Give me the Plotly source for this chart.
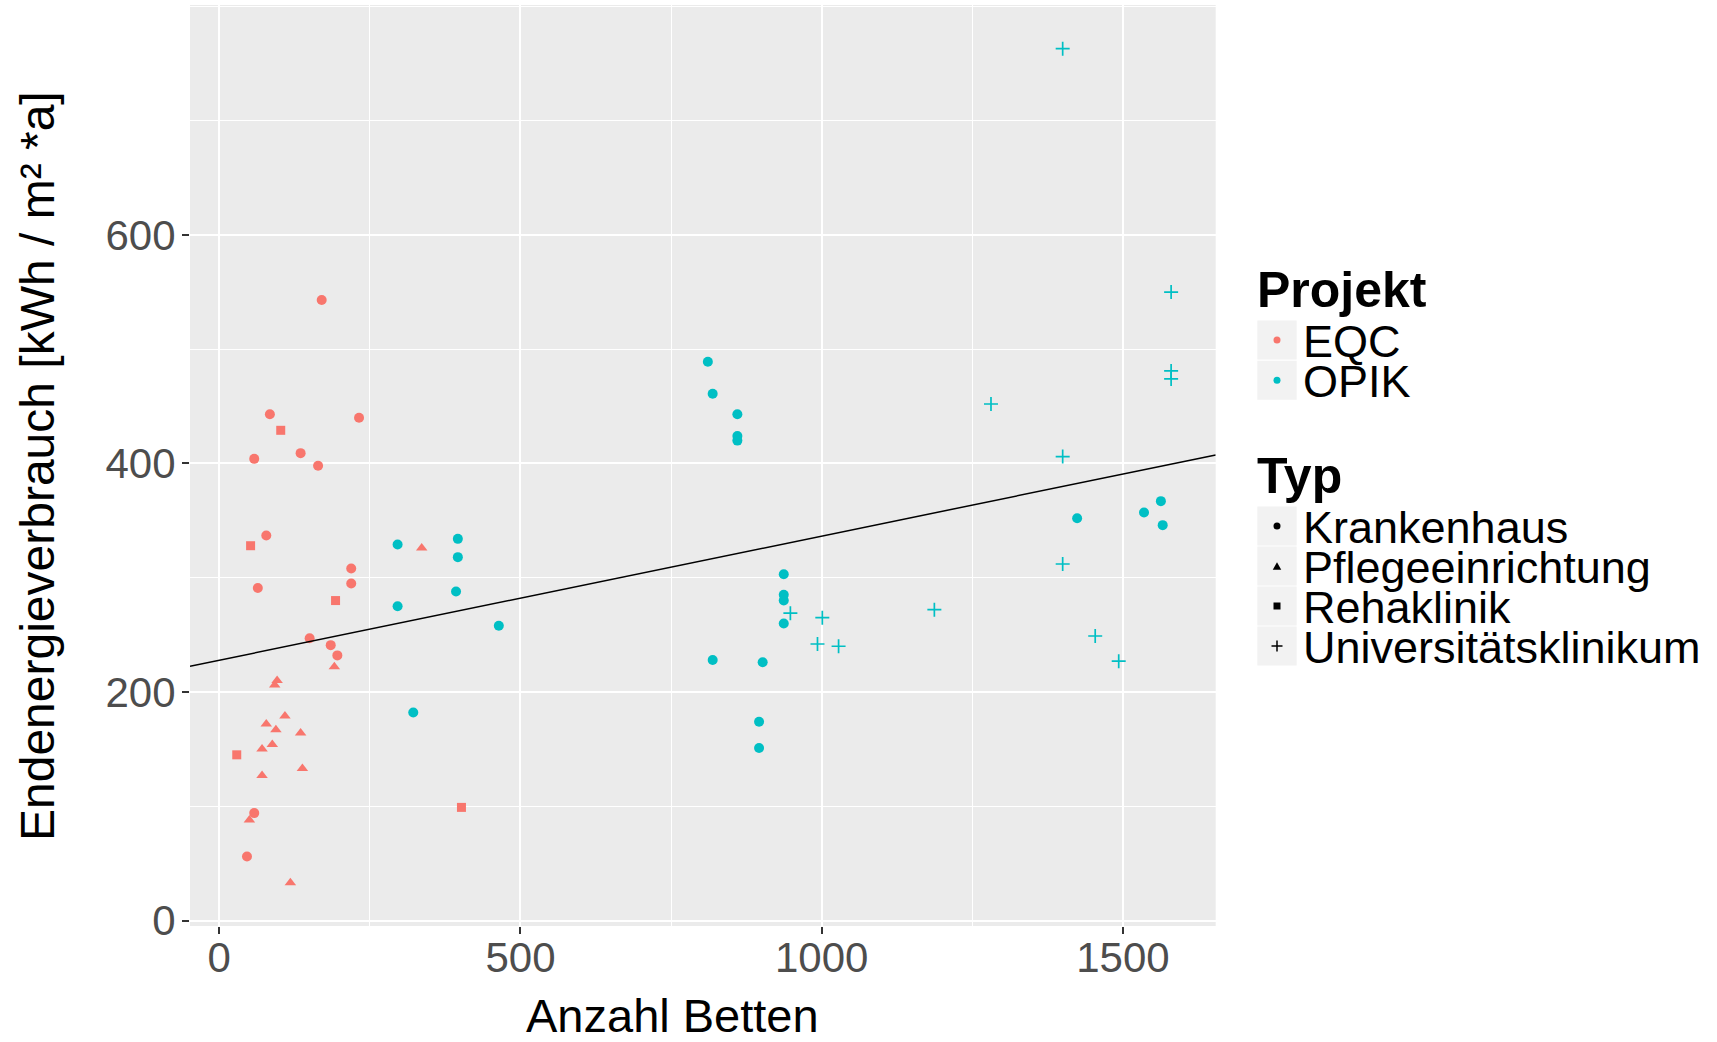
import plotly.graph_objects as go

# ---------------- data ----------------
eqc_kh_x = [170, 84, 232, 135, 58, 164, 78, 219, 219, 64, 150, 185, 196, 58, 46]
eqc_kh_y = [543, 443, 440, 409, 404, 398, 337, 308, 295, 291, 247, 241, 232, 94, 56]

eqc_pf_x = [336, 191, 96, 92, 109, 78, 94, 135, 88, 71, 138, 71, 50, 118]
eqc_pf_y = [326, 222, 210, 206, 179, 172, 167, 164, 154, 150, 133, 127, 88, 33]

eqc_re_x = [102, 52, 193, 29, 402]
eqc_re_y = [429, 328, 280, 145, 99]

opik_kh_x = [296, 396, 396, 393, 296, 464, 322,
             811, 819, 860, 860, 860, 937, 937, 937, 937, 819, 902, 896, 896,
             1424, 1563, 1535, 1566]
opik_kh_y = [329, 334, 318, 288, 275, 258, 182,
             489, 461, 443, 424, 420, 303, 285, 280, 260, 228, 226, 174, 151,
             352, 367, 357, 346]

opik_uk_x = [1400, 1580, 1580, 1580, 1281, 1400, 1400, 1187, 1454, 1493, 948, 1001, 993, 1028]
opik_uk_y = [763, 550, 481, 474, 452, 406, 312, 272, 249, 227, 269, 265, 242, 240]

fit_intercept = 227.8
fit_slope = 0.1086

x_range = [-48.6, 1654]
y_range = [-4.8, 801.2]
x_ticks = [0, 500, 1000, 1500]
y_ticks = [0, 200, 400, 600]

projekt_labels = ["EQC", "OPIK"]
typ_labels = ["Krankenhaus", "Pflegeeinrichtung", "Rehaklinik", "Universitätsklinikum"]

COL_EQC = "#F8766D"
COL_OPIK = "#00BFC4"
FONT = "Liberation Sans, Arial, sans-serif"

W, H = 1717, 1042

def px(x):
    return x / W

def py(y):
    return 1 - y / H

fig = go.Figure()

def add_pts(xs, ys, color, symbol, size, name, lw=0):
    marker = dict(color=color, symbol=symbol, size=size)
    if symbol == "cross-thin":
        marker["line"] = dict(color=color, width=lw)
    else:
        marker["line"] = dict(width=0)
    fig.add_trace(go.Scatter(x=xs, y=ys, mode="markers", marker=marker,
                             name=name, showlegend=False, cliponaxis=False))

add_pts(eqc_kh_x, eqc_kh_y, COL_EQC, "circle", 10, "EQC – Krankenhaus")
add_pts(eqc_pf_x, eqc_pf_y, COL_EQC, "triangle-up", 10, "EQC – Pflegeeinrichtung")
add_pts(eqc_re_x, eqc_re_y, COL_EQC, "square", 9, "EQC – Rehaklinik")
add_pts(opik_kh_x, opik_kh_y, COL_OPIK, "circle", 10, "OPIK – Krankenhaus")
add_pts(opik_uk_x, opik_uk_y, COL_OPIK, "cross-thin", 10, "OPIK – Universitätsklinikum", lw=1.7)

line_x = [x_range[0], x_range[1]]
line_y = [fit_intercept + fit_slope * v for v in line_x]
fig.add_trace(go.Scatter(x=line_x, y=line_y, mode="lines",
                         line=dict(color="black", width=1.5),
                         showlegend=False, hoverinfo="skip"))

axis_common = dict(
    showline=False, zeroline=False, showgrid=True, automargin=False,
    gridcolor="white", gridwidth=2,
    ticks="outside", ticklen=7, tickwidth=1.5, tickcolor="#333333",
    tickfont=dict(family=FONT, size=42, color="#4D4D4D"),
)

fig.update_layout(
    template="none",
    width=W, height=H, autosize=False,
    margin=dict(l=0, r=0, t=0, b=0, pad=0),
    paper_bgcolor="white",
    plot_bgcolor="#EBEBEB",
    font=dict(family=FONT),
    xaxis=dict(domain=[px(190), px(1215.7)], range=x_range,
               tickmode="array", tickvals=x_ticks, ticklabelstandoff=-12,
               minor=dict(tickmode="linear", tick0=0, dtick=250, showgrid=True,
                          gridcolor="white", gridwidth=1.1, ticks=""),
               **axis_common),
    yaxis=dict(domain=[py(926), py(5)], range=y_range,
               tickmode="array", tickvals=y_ticks, ticklabelstandoff=-2,
               minor=dict(tickmode="linear", tick0=0, dtick=100, showgrid=True,
                          gridcolor="white", gridwidth=1.1, ticks=""),
               **axis_common),
)

annotations = []
shapes = []

# axis titles
annotations.append(dict(text="Anzahl Betten", x=px(672.5), y=py(1015), xref="paper", yref="paper",
                        xanchor="center", yanchor="middle", showarrow=False,
                        font=dict(family=FONT, size=47, color="black")))
annotations.append(dict(text="Endenergieverbrauch [kWh / m² *a]", x=px(37), y=py(466),
                        xref="paper", yref="paper", xanchor="center", yanchor="middle",
                        textangle=-90, showarrow=False,
                        font=dict(family=FONT, size=48, color="black")))

# ---------------- manual legend ----------------
KEY_X0, KEY_X1 = 1257.3, 1296.7
KEY_CX = (KEY_X0 + KEY_X1) / 2
LABEL_X = 1301

def key_box(yc):
    shapes.append(dict(type="rect", xref="paper", yref="paper",
                       x0=px(KEY_X0), x1=px(KEY_X1), y0=py(yc - 19.5), y1=py(yc + 19.5),
                       fillcolor="#F2F2F2", line=dict(width=0), layer="below"))

def key_circle(yc, color, d=7):
    shapes.append(dict(type="circle", xref="paper", yref="paper",
                       x0=px(KEY_CX - d / 2), x1=px(KEY_CX + d / 2),
                       y0=py(yc + d / 2), y1=py(yc - d / 2),
                       fillcolor=color, line=dict(width=0)))

def key_square(yc, color, s=7):
    shapes.append(dict(type="rect", xref="paper", yref="paper",
                       x0=px(KEY_CX - s / 2), x1=px(KEY_CX + s / 2),
                       y0=py(yc + s / 2), y1=py(yc - s / 2),
                       fillcolor=color, line=dict(width=0)))

def key_triangle(yc, color, w=8.5, h=7.5):
    path = "M {} {} L {} {} L {} {} Z".format(
        px(KEY_CX - w / 2), py(yc + h / 2),
        px(KEY_CX + w / 2), py(yc + h / 2),
        px(KEY_CX), py(yc - h / 2))
    shapes.append(dict(type="path", xref="paper", yref="paper", path=path,
                       fillcolor=color, line=dict(width=0)))

def key_plus(yc, color, e=11):
    path = "M {} {} L {} {} M {} {} L {} {}".format(
        px(KEY_CX - e / 2), py(yc), px(KEY_CX + e / 2), py(yc),
        px(KEY_CX), py(yc - e / 2), px(KEY_CX), py(yc + e / 2))
    shapes.append(dict(type="path", xref="paper", yref="paper", path=path,
                       line=dict(color=color, width=1.5)))

def label(text, yc, size=45, bold=False, x=LABEL_X):
    t = "<b>" + text + "</b>" if bold else text
    annotations.append(dict(text=t, x=px(x), y=py(yc), xref="paper", yref="paper",
                            xanchor="left", yanchor="middle", showarrow=False,
                            font=dict(family=FONT, size=size, color="black")))

label("Projekt", 290, size=50, bold=True, x=1255)
proj_y = [340, 380.3]
for lab, yc, col in zip(projekt_labels, proj_y, [COL_EQC, COL_OPIK]):
    key_box(yc)
    key_circle(yc, col)
    label(lab, yc + 1.5)

label("Typ", 476, size=50, bold=True, x=1255)
typ_y = [526, 566, 606, 646]
for lab, yc in zip(typ_labels, typ_y):
    key_box(yc)
    label(lab, yc + 1.5)
key_circle(typ_y[0], "black")
key_triangle(typ_y[1], "black")
key_square(typ_y[2], "black")
key_plus(typ_y[3], "black")

fig.update_layout(annotations=annotations, shapes=shapes)

post = (
    "document.documentElement.style.margin='0';"
    "document.body.style.margin='0';"
    "document.body.style.overflow='hidden';"
    "document.documentElement.style.overflow='hidden';"
    "var d=document.getElementById('{plot_id}');"
    "d.style.position='fixed';d.style.top='0px';d.style.left='0px';"
)
fig.write_html("out.html", config={"displayModeBar": False}, post_script=post)
